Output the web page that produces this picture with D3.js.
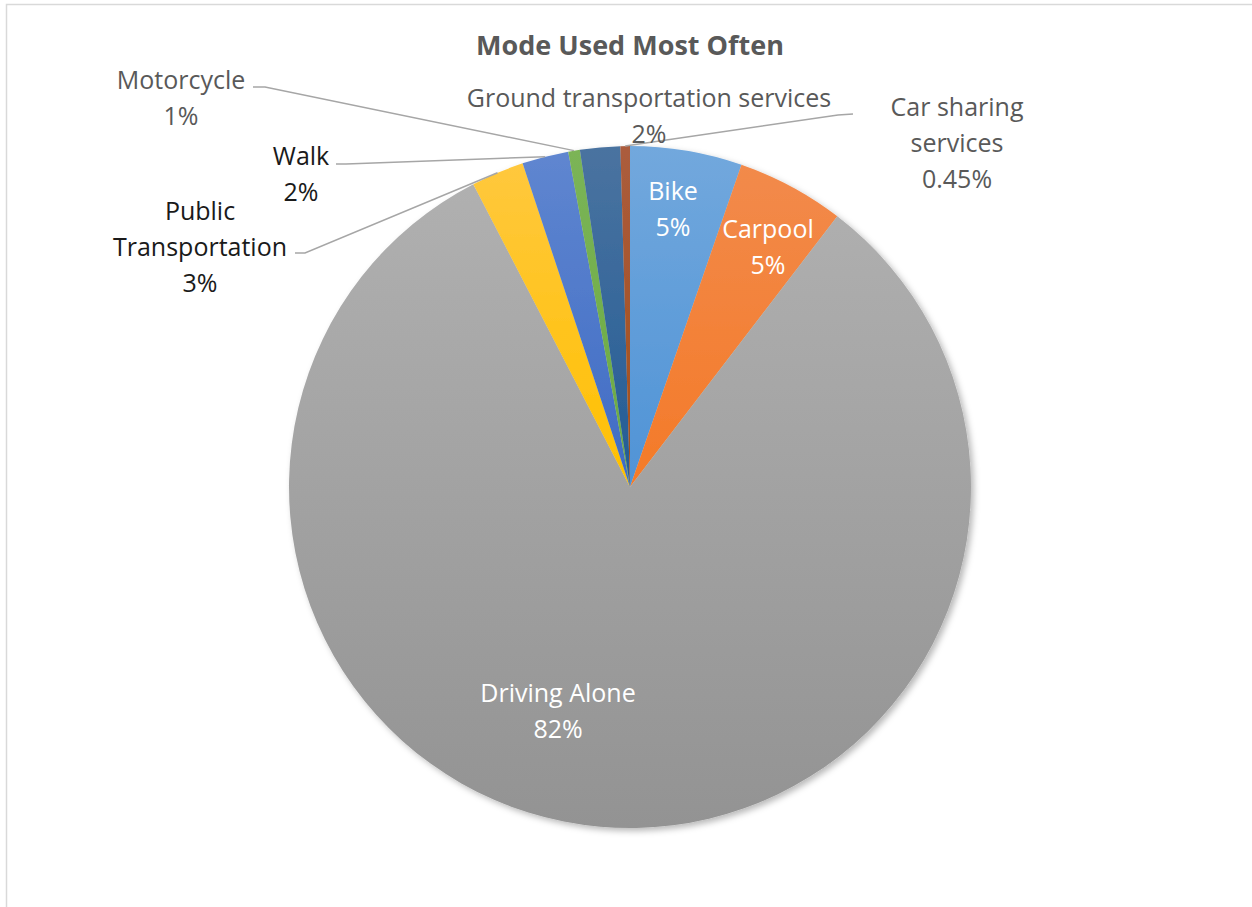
<!DOCTYPE html>
<html>
<head>
<meta charset="utf-8">
<script src="https://d3js.org/d3.v7.min.js"></script>
<style>
  body { margin: 0; background: #fff; }
  svg { display: block; }
  text { font-family: "Open Sans", Lato, sans-serif; }
</style>
</head>
<body>
<div id="chart"></div>
<script>
"use strict";

var categories = ["Bike", "Carpool", "Driving Alone", "Public Transportation", "Walk",
  "Motorcycle", "Ground transportation services", "Car sharing services"];
var shares = [5.3, 5.1, 82.0, 2.5, 2.2, 0.55, 1.9, 0.45];
var pctLabels = ["5%", "5%", "82%", "3%", "2%", "1%", "2%", "0.45%"];
var labelLines = [
  ["Bike"], ["Carpool"], ["Driving Alone"], ["Public", "Transportation"], ["Walk"],
  ["Motorcycle"], ["Ground transportation services"], ["Car sharing", "services"]
];

// top / bottom colours of each slice gradient
var colorsTop = ["#72a8dd", "#f28a4b", "#b0b0b0", "#ffc83d", "#5f86d0", "#7bb457", "#4a73a0", "#ab5c3d"];
var colorsBottom = ["#4f93d6", "#f47a28", "#939393", "#ffc000", "#3f6bc4", "#6aaa42", "#235c95", "#a24f1a"];

// label placement, relative to the pie centre
var labelPos = [
  {x: 43, y: -297, color: "#fff"},
  {x: 138, y: -259, color: "#fff"},
  {x: -72, y: 205, color: "#fff"},
  {x: -430, y: -277, color: "#1a1a1a", lead: [[-335, -234], [-325, -234]]},
  {x: -329, y: -332, color: "#1a1a1a", lead: [[-294, -323], [-284, -323]]},
  {x: -449, y: -408, color: "#595959", lead: [[-377, -400], [-365, -400]]},
  {x: 19, y: -390, color: "#595959"},
  {x: 327, y: -381, color: "#595959", lead: [[223, -373], [208, -372]]}
];

var width = 1252, height = 907;
var cx = 630, cy = 487, radius = 341;
var lineH = 36;

var svg = d3.select("#chart").append("svg")
  .attr("width", width)
  .attr("height", height);

var defs = svg.append("defs");

var shadow = defs.append("filter")
  .attr("id", "shadow")
  .attr("x", "-10%").attr("y", "-10%")
  .attr("width", "120%").attr("height", "120%");
shadow.append("feDropShadow")
  .attr("dx", 3).attr("dy", 3)
  .attr("stdDeviation", 3)
  .attr("flood-color", "#000")
  .attr("flood-opacity", 0.28);

categories.forEach(function(c, i) {
  var g = defs.append("linearGradient")
    .attr("id", "grad" + i)
    .attr("x1", 0).attr("y1", 0).attr("x2", 0).attr("y2", 1);
  g.append("stop").attr("offset", "0%").attr("stop-color", colorsTop[i]);
  g.append("stop").attr("offset", "100%").attr("stop-color", colorsBottom[i]);
});

// chart area border
svg.append("rect")
  .attr("x", 6.5).attr("y", 4.5)
  .attr("width", 1400).attr("height", 1000)
  .attr("fill", "none")
  .attr("stroke", "#d9d9d9")
  .attr("stroke-width", 1.5);

svg.append("text")
  .attr("x", cx)
  .attr("y", 55)
  .attr("text-anchor", "middle")
  .attr("font-size", 27)
  .attr("font-weight", "bold")
  .attr("fill", "#595959")
  .text("Mode Used Most Often");

var data = categories.map(function(c, i) {
  return {name: c, value: shares[i], idx: i};
});

var pie = d3.pie()
  .sort(null)
  .value(function(d) { return d.value; });

var arc = d3.arc()
  .innerRadius(0)
  .outerRadius(radius);

var arcs = pie(data);

var g = svg.append("g")
  .attr("transform", "translate(" + cx + "," + cy + ")");

g.append("g")
  .attr("filter", "url(#shadow)")
  .selectAll("path")
  .data(arcs)
  .enter()
    .append("path")
      .attr("d", arc)
      .attr("fill", function(d) { return "url(#grad" + d.data.idx + ")"; });

// leader lines
arcs.forEach(function(d, i) {
  var p = labelPos[i];
  if (!p.lead) return;
  var mid = (d.startAngle + d.endAngle) / 2;
  var end = [Math.sin(mid) * radius, -Math.cos(mid) * radius];
  g.append("path")
    .attr("d", d3.line()([p.lead[0], p.lead[1], end]))
    .attr("fill", "none")
    .attr("stroke", "#a6a6a6")
    .attr("stroke-width", 1.5);
});

// labels
arcs.forEach(function(d, i) {
  var p = labelPos[i];
  var lines = labelLines[i].concat([pctLabels[i]]);
  var t = g.append("text")
    .attr("text-anchor", "middle")
    .attr("font-size", 25)
    .attr("fill", p.color);
  lines.forEach(function(l, k) {
    t.append("tspan")
      .attr("x", p.x)
      .attr("y", p.y + k * lineH)
      .attr("dominant-baseline", "central")
      .text(l);
  });
});
</script>
</body>
</html>
